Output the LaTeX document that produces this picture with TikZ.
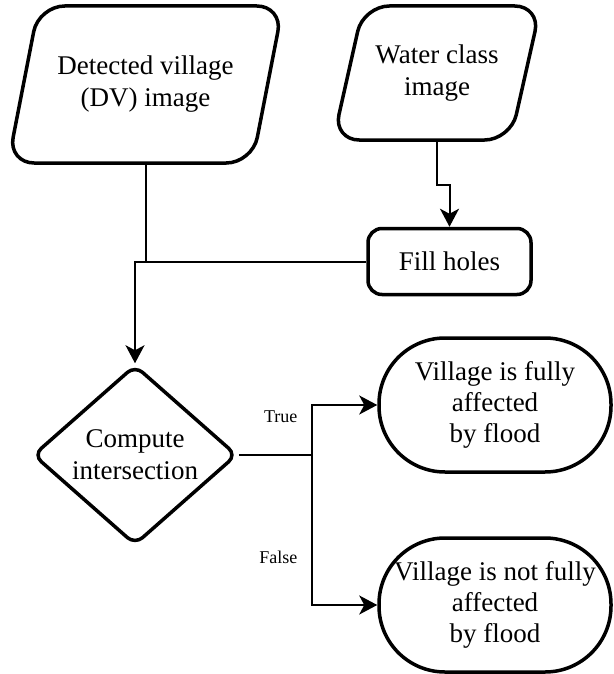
\documentclass[tikz,border=0pt]{standalone}
\usepackage{fontspec}
\setmainfont{Liberation Serif}
\usetikzlibrary{shapes.geometric,arrows.meta}

\begin{document}
\begin{tikzpicture}[x=1pt,y=-1pt,
  data/.style={trapezium, trapezium left angle=66, trapezium right angle=114,
    trapezium stretches=true, draw, line width=3.5pt, rounded corners=26pt,
    align=center, inner sep=0pt, font=\fontsize{27}{32}\selectfont},
  process/.style={rectangle, draw, line width=3.5pt, rounded corners=14pt,
    minimum width=163pt, minimum height=66pt, font=\fontsize{27}{32}\selectfont},
  decision/.style={diamond, draw, line width=3.5pt, rounded corners=10pt, inner sep=0pt,
    minimum width=204pt, minimum height=180pt, align=center, font=\fontsize{27}{32}\selectfont},
  result/.style={rectangle, draw, line width=3.5pt, rounded corners=66pt, inner sep=0pt,
    minimum width=232pt, minimum height=134pt, align=center, font=\fontsize{27}{31}\selectfont},
  line/.style={draw, line width=2pt},
  arrow/.style={line, -{Stealth[length=18pt,width=19pt,inset=5pt]}},
  branch/.style={font=\fontsize{18}{22}\selectfont}]
\useasboundingbox (0,0) rectangle (613,674);
\node at (145.5,84.5) (dv) [data, minimum width=275pt, minimum height=157pt] {Detected village\\(DV) image};
\node at (437,73) (water) [data, minimum width=208pt, minimum height=134pt] {Water class\\image};
\node at (449.5,261.5) (fill) [process] {Fill holes};
\node at (135,455) (cmp) [decision] {Compute\\intersection};
\node at (495,405) (full) [result] {Village is fully\\affected\\by flood};
\node at (495,605) (notfull) [result] {Village is not fully\\affected\\by flood};
\draw [line] (dv.south) -- (dv.south |- fill.west);
\draw [arrow] (fill.west) -| (cmp.north);
\draw [arrow] (water.south) -- ++(0,43) -| (fill.north);
\draw [line] (cmp.east) -- ++(73,0) coordinate (split);
\draw [arrow] (split) |- (full.west) node[pos=0.38,left=10pt,branch]{True};
\draw [arrow] (split) |- (notfull.west) node[pos=0.34,left=10pt,branch]{False};
\end{tikzpicture}
\end{document}
